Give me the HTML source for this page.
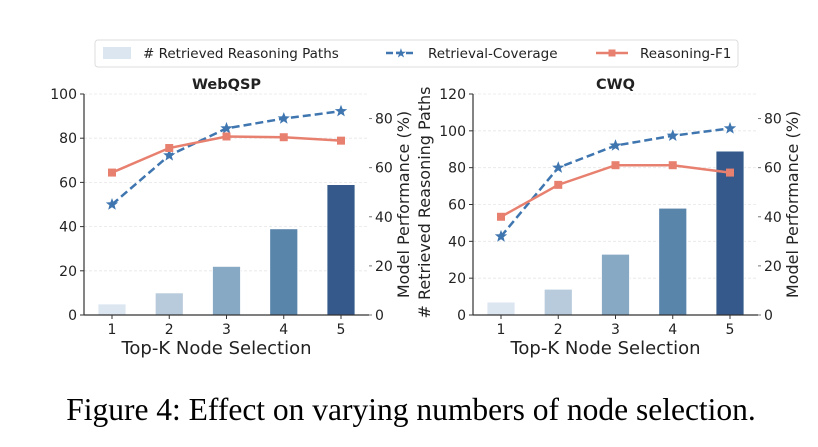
<!DOCTYPE html>
<html><head><meta charset="utf-8"><style>
body{margin:0;background:#fff;width:818px;height:442px;overflow:hidden}
svg text{font-family:"DejaVu Sans","Liberation Sans",sans-serif;fill:#222}
</style></head><body>
<svg id="fig" width="818" height="442" xmlns="http://www.w3.org/2000/svg">
<g>
<rect x="95" y="40" width="643" height="27" rx="3" fill="#fff" stroke="#ddd"/>
<rect x="103" y="47" width="28" height="12" fill="#dce6f0"/>
<text x="143" y="58" font-size="13.5">#  Retrieved Reasoning Paths</text>
<line x1="386" y1="53" x2="416" y2="53" stroke="#3f76b0" stroke-width="2.5" stroke-dasharray="7,3"/>
<text x="401" y="57.5" font-size="13" text-anchor="middle" style="fill:#3f76b0">★</text>
<text x="428" y="58" font-size="13.5">Retrieval-Coverage</text>
<line x1="596" y1="53" x2="628" y2="53" stroke="#e8806f" stroke-width="2.5"/>
<rect x="608.5" y="49.5" width="7" height="7" fill="#e8806f"/>
<text x="640" y="58" font-size="13.5">Reasoning-F1</text>
</g>
<text x="411" y="420" text-anchor="middle" font-size="31.5" style="font-family:'Liberation Serif',serif;fill:#000">Figure 4: Effect on varying numbers of node selection.</text>
</svg>
<script>
const categories=[1,2,3,4,5];
const webqspPaths=[5,10,22,39,59];
const webqspCoverage=[45,65,76,80,83];
const webqspF1=[58,68,72.7,72.4,71];
const cwqPaths=[7,14,33,58,89];
const cwqCoverage=[32,60,69,73,76];
const cwqF1=[40,53,61,61,58];
const webqspLeftTicks=[0,20,40,60,80,100];
const cwqLeftTicks=[0,20,40,60,80,100,120];
const rightTicks=[0,20,40,60,80];
const barColors=['#dce6f0','#b7cbdc','#88a9c4','#5a85ab','#34598a'];
const NS='http://www.w3.org/2000/svg';
const svg=document.getElementById('fig');
function mk(tag,attrs,parent){const e=document.createElementNS(NS,tag);for(const k in attrs)e.setAttribute(k,attrs[k]);(parent||svg).appendChild(e);return e;}
function star(cx,cy,r){let p=[];for(let i=0;i<10;i++){const a=-Math.PI/2+i*Math.PI/5;const rr=i%2?r*0.42:r;p.push((cx+rr*Math.cos(a)).toFixed(1)+','+(cy+rr*Math.sin(a)).toFixed(1));}return p.join(' ');}
function panel(id,title,x0,x1,lmax,lticks,paths,cov,f1,showLeftTitle){
  const g=mk('g',{});
  
  
  const yTop=94,yBot=315;
  const yL=v=>yBot-(v/lmax)*(yBot-yTop);
  const yR=v=>yBot-(v/90)*(yBot-yTop);
  const c1=x0+28,c5=x1-28;
  const xs=i=>c1+(i)*(c5-c1)/(categories.length-1);
  lticks.forEach(t=>{if(t>0){mk('line',{x1:x0,x2:x1,y1:yL(t),y2:yL(t),stroke:'#e6e6e6','stroke-dasharray':'3,2','stroke-width':0.8},g);}});
  categories.forEach((c,i)=>{const b=mk('rect',{x:xs(i)-14,y:yL(paths[i]),width:28,height:yBot-yL(paths[i]),fill:barColors[i],stroke:'#fff','stroke-width':0.8},g);
    
    });
  const cp=categories.map((c,i)=>xs(i)+','+yR(cov[i])).join(' ');
  const cl=mk('polyline',{points:cp,fill:'none',stroke:'#3f76b0','stroke-width':2.5,'stroke-dasharray':'8,4'},g);
  
  
  categories.forEach((c,i)=>{const s=mk('polygon',{points:star(xs(i),yR(cov[i]),6.5),fill:'#3f76b0'},g);
    
    });
  const fp=categories.map((c,i)=>xs(i)+','+yR(f1[i])).join(' ');
  const fl=mk('polyline',{points:fp,fill:'none',stroke:'#e8806f','stroke-width':2.5},g);
  
  
  categories.forEach((c,i)=>{const s=mk('rect',{x:xs(i)-4,y:yR(f1[i])-4,width:8,height:8,fill:'#e8806f'},g);
    
    });
  mk('line',{x1:x0,x2:x0,y1:yTop,y2:yBot,stroke:'#333','stroke-width':1.2},g);
  mk('line',{x1:x0,x2:x1,y1:yBot,y2:yBot,stroke:'#333','stroke-width':1.2},g);
  lticks.forEach(t=>{mk('line',{x1:x0-4,x2:x0,y1:yL(t),y2:yL(t),stroke:'#333'},g);
    const tx=mk('text',{x:x0-7,y:yL(t)+5,'text-anchor':'end','font-size':14},g);tx.textContent=t;
    
    });
  rightTicks.forEach(t=>{mk('line',{x1:x1,x2:x1+3,y1:yR(t),y2:yR(t),stroke:'#777'},g);
    const tx=mk('text',{x:x1+6,y:yR(t)+5,'font-size':14},g);tx.textContent=t;
    
    });
  categories.forEach((c,i)=>{mk('line',{x1:xs(i),x2:xs(i),y1:yBot,y2:yBot+4,stroke:'#333'},g);
    const tx=mk('text',{x:xs(i),y:yBot+19,'text-anchor':'middle','font-size':14},g);tx.textContent=c;
    
    });
  const tt=mk('text',{x:(x0+x1)/2,y:89,'text-anchor':'middle','font-size':14.5,'font-weight':'bold'},g);tt.textContent=title;
  
  
  const xl=mk('text',{x:(x0+x1)/2-10,y:354,'text-anchor':'middle','font-size':18},g);xl.textContent='Top-K Node Selection';
  
  
  if(showLeftTitle){
    const yl=mk('text',{x:0,y:0,'text-anchor':'middle','font-size':16,transform:`translate(${x0-43},${(yTop+yBot)/2-2}) rotate(-90)`},g);yl.textContent='# Retrieved Reasoning Paths';
    
    
  }
  const rl=mk('text',{x:0,y:0,'text-anchor':'middle','font-size':16,transform:`translate(${x1+40},${(yTop+yBot)/2}) rotate(-90)`},g);rl.textContent='Model Performance (%)';
  
  
}
panel('webqsp','WebQSP',84,369,100,webqspLeftTicks,webqspPaths,webqspCoverage,webqspF1,false);
panel('cwq','CWQ',473,758,120,cwqLeftTicks,cwqPaths,cwqCoverage,cwqF1,true);
</script>
</body></html>
